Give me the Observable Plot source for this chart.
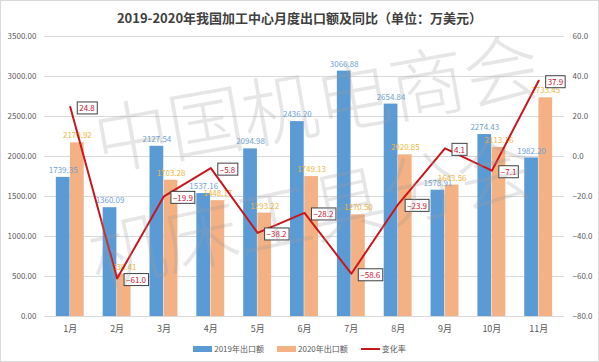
<!DOCTYPE html>
<html><head><meta charset="utf-8">
<script src="https://cdn.jsdelivr.net/npm/d3@7"></script>
<script src="https://cdn.jsdelivr.net/npm/@observablehq/plot@0.6"></script>
<style>
html,body{margin:0;padding:0;background:#fff;}
#wrap{position:relative;width:599px;height:362px;box-sizing:border-box;border:1px solid #d9d9d9;overflow:hidden;font-family:"Noto Sans CJK SC","Noto Sans",sans-serif;}
#title{position:absolute;left:0;top:8px;width:597px;text-align:center;font-size:13px;font-weight:bold;color:#404040;line-height:18px;}
#chart{position:absolute;left:-1px;top:28px;}
#legend{position:absolute;left:0;top:342px;width:597px;display:flex;justify-content:center;align-items:center;gap:13px;font-size:8px;color:#595959;line-height:12px;}
#legend span.it{display:flex;align-items:center;gap:2px;}
#legend i{display:inline-block;}
#wm{position:absolute;left:0;top:0;pointer-events:none;}
</style></head>
<body>
<div id="wrap">
  <div id="title">2019-2020年我国加工中心月度出口额及同比（单位：万美元）</div>
  <div id="chart"></div>
  <div id="legend"></div>
  <svg id="wm" width="599" height="362"></svg>
</div>
<script>
const months = ["1月","2月","3月","4月","5月","6月","7月","8月","9月","10月","11月"];
const exp2019 = [1739.35,1360.09,2127.54,1537.16,2094.98,2436.20,3066.88,2654.84,1578.91,2274.43,1982.20];
const exp2020 = [2170.92,530.41,1703.28,1448.17,1293.22,1749.13,1270.50,2020.85,1643.56,2113.16,2733.45];
const change = [24.8,-61.0,-19.9,-5.8,-38.2,-28.2,-58.6,-23.9,4.1,-7.1,37.9];
const leftTicks = [0,500,1000,1500,2000,2500,3000,3500];
const rightTicks = [60,40,20,0,-20,-40,-60,-80];
const seriesNames = ["2019年出口额","2020年出口额","变化率"];
const colors = ["#5b9bd5","#f4b183","#c8161d"];

const data = months.map((m,i)=>({m, v19:exp2019[i], v20:exp2020[i], c:change[i]}));
const toLeft = d3.scaleLinear().domain([-80,60]).range([0,3500]);

const W=600, ML=44, MR=34;
const step = (W-ML-MR)/11;
const half = step*0.6/2;

const plot = Plot.plot({
  width: W, height: 313,
  marginTop: 7, marginBottom: 25, marginLeft: ML, marginRight: MR,
  style: {fontFamily: '"Noto Sans CJK SC","Liberation Sans",sans-serif', fontSize: "8px", color:"#595959", background:"transparent"},
  x: {domain: months, paddingInner: 0.4, paddingOuter: 0.2},
  y: {domain: [0,3500]},
  marks: [
    Plot.gridY(leftTicks, {stroke:"#d9d9d9", strokeOpacity:1}),
    Plot.barY(data, {x:"m", y:"v19", fill:colors[0], insetRight: half}),
    Plot.barY(data, {x:"m", y:"v20", fill:colors[1], insetLeft: half}),
    Plot.text(data, {x:"m", y:"v19", text:d=>d3.format(".2f")(d.v19), dx:-half/2, dy:-7, fill:"#6f9fd3", fontSize:8}),
    Plot.text(data, {x:"m", y:"v20", text:d=>d3.format(".2f")(d.v20), dx:half/2, dy:-7, fill:"#f2b637", fontSize:8}),
    Plot.line(data, {x:"m", y:d=>toLeft(d.c), stroke:colors[2], strokeWidth:2}),
    Plot.text(data, {x:"m", y:d=>toLeft(d.c), text:d=>d3.format(".1f")(d.c), dx:9, dy:2, textAnchor:"start", fill:"#c8102e", fontSize:8, className:"linelbl"}),
    Plot.axisY(leftTicks, {anchor:"left", tickSize:0, tickPadding:8, tickFormat:d3.format(".2f"), fill:"#595959", fontSize:8, label:null}),
    Plot.axisY(rightTicks.map(toLeft), {anchor:"right", tickSize:0, tickPadding:8, tickFormat:d=>d3.format(".1f")(toLeft.invert(d)), fill:"#595959", fontSize:8, label:null}),
    Plot.axisX({tickSize:0, tickPadding:9, fill:"#595959", fontSize:9, label:null})
  ]
});
document.getElementById("chart").appendChild(plot);

// white boxes behind line labels
let lbls = plot.querySelectorAll('g.linelbl text, .linelbl text');
if (!lbls.length) lbls = [...plot.querySelectorAll('text')].filter(t=>(t.getAttribute("fill")||"").toLowerCase()==="#c8102e" || (t.parentNode.getAttribute("fill")||"").toLowerCase()==="#c8102e");
lbls.forEach(t=>{
  const b = t.getBBox();
  const r = document.createElementNS("http://www.w3.org/2000/svg","rect");
  r.setAttribute("x", b.x-2); r.setAttribute("y", b.y-0.5);
  r.setAttribute("width", b.width+4); r.setAttribute("height", b.height+1);
  r.setAttribute("fill","#fff"); r.setAttribute("stroke","#404040"); r.setAttribute("stroke-width","1");
  if (t.getAttribute("transform")) r.setAttribute("transform", t.getAttribute("transform"));
  t.parentNode.insertBefore(r, t);
});

// legend
const lg = document.getElementById("legend");
seriesNames.forEach((n,i)=>{
  const s = document.createElement("span"); s.className="it";
  const sw = document.createElement("i");
  sw.style.width = "19px"; sw.style.height = i<2 ? "6px" : "2px"; sw.style.background = colors[i];
  s.appendChild(sw); s.appendChild(document.createTextNode(n)); lg.appendChild(s);
});

// watermark
const wm = d3.select("#wm");
[["中国机电商会", 320, 130, -10],["机床工具分会", 315, 238, -12]].forEach(([t,x,y,a])=>{
  wm.append("text").attr("x",x).attr("y",y).attr("text-anchor","middle")
    .attr("transform",`rotate(${a},${x},${y})`)
    .attr("font-family",'"Noto Sans CJK SC",sans-serif').attr("font-weight",300)
    .attr("font-size",76).attr("letter-spacing",-1)
    .attr("fill","#9a9a9a").attr("fill-opacity",0.25).text(t);
});
</script>
</body></html>
